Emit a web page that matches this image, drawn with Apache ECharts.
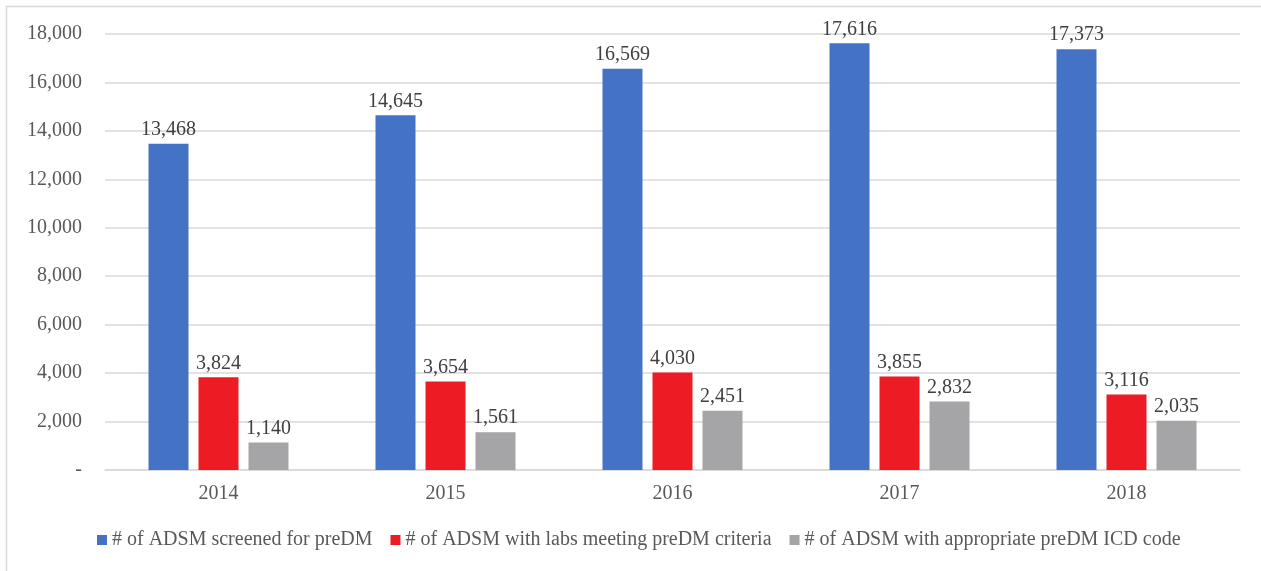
<!DOCTYPE html>
<html>
<head>
<meta charset="utf-8">
<script src="https://cdn.jsdelivr.net/npm/echarts@6/dist/echarts.min.js"></script>
<style>
  html, body { margin: 0; padding: 0; background: #fff; }
  #chart { width: 1261px; height: 571px; }
</style>
</head>
<body>
<div id="chart"></div>
<script>
// Fiscal years on the x axis
const years = ['2014', '2015', '2016', '2017', '2018'];

// Series names and counts per year
const seriesNames = [
  '# of ADSM screened for preDM',
  '# of ADSM with labs meeting preDM criteria',
  '# of ADSM with appropriate preDM ICD code'
];
const screened = [13468, 14645, 16569, 17616, 17373];
const labsMeeting = [3824, 3654, 4030, 3855, 3116];
const icdCoded = [1140, 1561, 2451, 2832, 2035];

// Y axis range
const yMin = 0;
const yMax = 18000;
const yStep = 2000;

const colors = ['#4472C4', '#ED1C24', '#A5A5A7'];
const textColor = '#595959';
const fontFamily = '"Liberation Serif", "Times New Roman", serif';

const fmt = v => v === 0 ? '-' : v.toLocaleString('en-US');

const chart = echarts.init(document.getElementById('chart'));

function barSeries(name, data, color) {
  return {
    name: name,
    type: 'bar',
    data: data,
    barWidth: 40,
    barGap: '25%',
    itemStyle: { color: color },
    label: {
      show: true,
      position: 'top',
      distance: 4,
      color: '#404040',
      fontFamily: fontFamily,
      fontSize: 20,
      formatter: p => fmt(p.value)
    }
  };
}

chart.setOption({
  animation: false,
  textStyle: { fontFamily: fontFamily },
  graphic: [{
    type: 'rect',
    shape: { x: 6.5, y: 6.5, width: 1280, height: 600 },
    style: { fill: 'none', stroke: '#D9D9D9', lineWidth: 1.5 },
    silent: true,
    z: -1
  }],
  grid: { left: 105, right: 21, top: 34, bottom: 101, containLabel: false },
  legend: {
    bottom: 16,
    left: 92,
    itemWidth: 10,
    itemHeight: 10,
    itemGap: 18,
    icon: 'rect',
    textStyle: { color: textColor, fontFamily: fontFamily, fontSize: 20 },
    data: seriesNames
  },
  xAxis: {
    type: 'category',
    data: years,
    axisLine: { show: true, lineStyle: { color: '#D9D9D9', width: 1.5 } },
    axisTick: { show: false },
    axisLabel: { color: textColor, fontFamily: fontFamily, fontSize: 20, margin: 14 }
  },
  yAxis: {
    type: 'value',
    min: yMin,
    max: yMax,
    interval: yStep,
    axisLine: { show: false },
    axisTick: { show: false },
    splitLine: { lineStyle: { color: '#D9D9D9', width: 1.5 } },
    axisLabel: {
      color: textColor,
      fontFamily: fontFamily,
      fontSize: 20,
      margin: 23,
      formatter: v => fmt(v)
    }
  },
  series: [
    barSeries(seriesNames[0], screened, colors[0]),
    barSeries(seriesNames[1], labsMeeting, colors[1]),
    barSeries(seriesNames[2], icdCoded, colors[2])
  ]
});
</script>
</body>
</html>
